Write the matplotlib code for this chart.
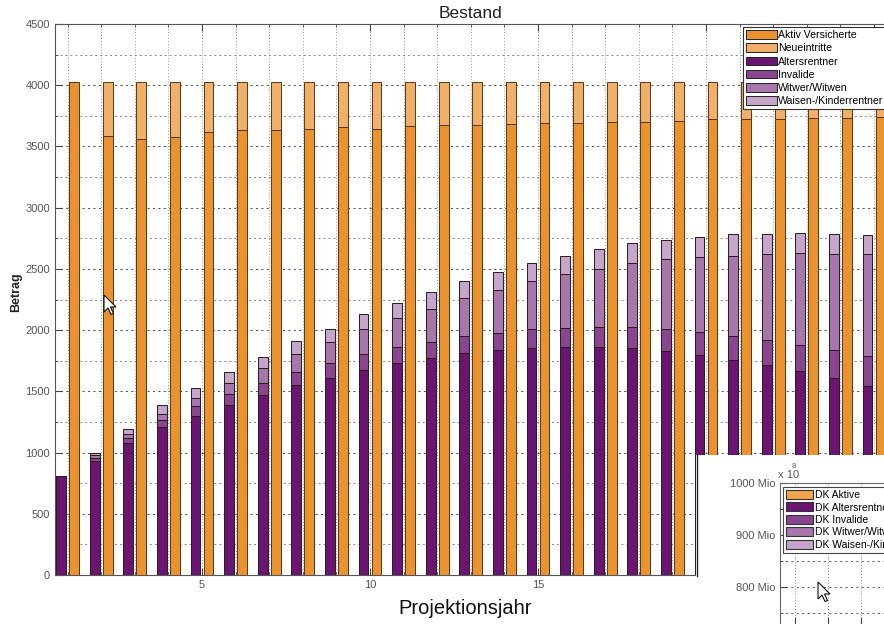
import numpy as np
import matplotlib
matplotlib.use("Agg")
import matplotlib.pyplot as plt
from matplotlib.patches import Patch, Polygon, Rectangle
from matplotlib.lines import Line2D
from matplotlib.ticker import MultipleLocator, FixedLocator

plt.rcParams['font.family'] = ['Liberation Sans', 'DejaVu Sans']

# projection years
years = np.arange(1, 26)

# orange stack: active insured + new entries
aktiv = [4030, 3585, 3558, 3577, 3615, 3632, 3632, 3640, 3656, 3645, 3664, 3672, 3672,
         3683, 3689, 3694, 3697, 3702, 3710, 3721, 3721, 3724, 3735, 3735, 3737]
neueintritte = [0, 445, 472, 453, 415, 398, 398, 390, 374, 385, 366, 358, 358,
                347, 341, 336, 333, 328, 320, 309, 309, 306, 295, 295, 293]

# purple stack: pensioners
altersrentner = [806, 931, 1075, 1209, 1296, 1388, 1470, 1549, 1609, 1674, 1729, 1770, 1811,
                 1838, 1851, 1860, 1865, 1851, 1832, 1797, 1756, 1715, 1666, 1606, 1546]
invalide = [2, 24, 41, 54, 82, 88, 101, 106, 120, 128, 131, 135, 138,
            141, 155, 160, 158, 172, 180, 185, 199, 204, 212, 232, 243]
witwer = [2, 25, 33, 49, 69, 95, 117, 147, 171, 204, 237, 270, 313,
          349, 395, 438, 474, 523, 566, 613, 650, 700, 749, 781, 830]
waisen = [0, 19, 41, 74, 78, 84, 95, 106, 112, 126, 122, 134, 137,
          144, 145, 147, 163, 163, 158, 168, 177, 166, 166, 166, 158]

labels_main = ['Aktiv Versicherte', 'Neueintritte', 'Altersrentner', 'Invalide',
               'Witwer/Witwen', 'Waisen-/Kinderrentner']
colors_orange = ['#E8932F', '#F0B06A']
colors_purple = ['#6A1572', '#8A4591', '#A676AC', '#C5A5CA']

# second (covering) window
inset_labels = ['DK Aktive', 'DK Altersrentner', 'DK Invalide', 'DK Witwer/Witwen',
                'DK Waisen-/Kinderrentner']
inset_colors = ['#F2A54C', '#6A1572', '#8A4591', '#A676AC', '#C5A5CA']
inset_ticks = [800, 900, 1000]
inset_ticklabels = ['800 Mio', '900 Mio', '1000 Mio']

W, H = 884, 624
fig = plt.figure(figsize=(W / 100, H / 100), dpi=100)


def fx(px):
    return px / W


def fy(py):
    return 1 - py / H


# main axes, runs past the right edge of the picture
x0 = 0.625
ppu = 33.6
ax = fig.add_axes([fx(55), fy(575), fx(26.5 - x0) * ppu, fy(24) - fy(575)])
ax.set_xlim(x0, 26.5)
ax.set_ylim(0, 4500)

bw = 0.29
off = 0.195
edge = '#2b1a1a'
bottom = np.zeros(len(years))
for vals, c in zip([altersrentner, invalide, witwer, waisen], colors_purple):
    ax.bar(years - off, vals, bw, bottom=bottom, color=c, edgecolor=edge, linewidth=0.7, zorder=3)
    bottom += np.array(vals)
bottom = np.zeros(len(years))
for vals, c in zip([aktiv, neueintritte], colors_orange):
    ax.bar(years + off, vals, bw, bottom=bottom, color=c, edgecolor='#5a3418', linewidth=0.7, zorder=3)
    bottom += np.array(vals)

ax.xaxis.set_major_locator(MultipleLocator(5))
ax.xaxis.set_minor_locator(MultipleLocator(1))
ax.yaxis.set_major_locator(MultipleLocator(500))
ax.yaxis.set_minor_locator(MultipleLocator(250))
ax.grid(which='major', axis='y', linestyle=(0, (2.5, 4)), color='#333333', linewidth=0.6, zorder=0)
ax.grid(which='minor', axis='y', linestyle=(0, (2.5, 4)), color='#666666', linewidth=0.55, zorder=0)
ax.grid(which='both', axis='x', linestyle=(0, (1, 2.5)), color='#777777', linewidth=0.6, zorder=0)
ax.tick_params(which='both', direction='in', top=True, right=True, labelsize=8,
               labelcolor='#555555', color='#444444')
ax.tick_params(which='major', length=5)
ax.tick_params(which='minor', length=2.5)
for s in ax.spines.values():
    s.set_color('#555555')
    s.set_linewidth(0.8)

fig.text(fx(470), fy(14), 'Bestand', ha='center', va='center', fontsize=12.5, color='#222222')
fig.text(fx(16), fy(292), 'Betrag', ha='center', va='center', rotation=90,
         fontsize=9, fontweight='bold', color='#222222')
fig.text(fx(465), fy(608), 'Projektionsjahr', ha='center', va='center', fontsize=14.5, color='#111111')

handles = [Patch(facecolor=c, edgecolor='#222222', linewidth=0.7)
           for c in colors_orange + colors_purple]
leg = fig.legend(handles, labels_main, loc='upper left', bbox_to_anchor=(fx(743), fy(27)),
                 fontsize=7.6, handlelength=2.9, handleheight=0.9, labelspacing=0.3,
                 handletextpad=0.15, borderpad=0.3, borderaxespad=0, fancybox=False,
                 framealpha=1, edgecolor='#333333')
leg.get_frame().set_linewidth(0.8)
leg.set_zorder(4)

# white panel of the covering window
panel = fig.add_axes([fx(696), 0, fx(W - 696), fy(455)])
panel.set_facecolor('white')
panel.set_axis_off()
panel.add_patch(Rectangle((0, 0), 1, 1, transform=panel.transAxes, color='white', zorder=0))
panel.set_zorder(5)
fig.add_artist(Line2D([fx(696.5), fx(696.5)], [fy(455), fy(576)], color='#222222',
                      linewidth=1.0, zorder=6))

ins = fig.add_axes([fx(780), 0, fx(W - 780), fy(483)])
ins.set_zorder(6)
ins.set_xlim(0.545, 0.545 + (W - 780) / 33.0)
ins.set_ylim(1000 - (624 - 483) / 0.52, 1000)
ins.yaxis.set_major_locator(FixedLocator(inset_ticks))
ins.set_yticklabels(inset_ticklabels)
ins.yaxis.set_minor_locator(MultipleLocator(50))
ins.xaxis.set_major_locator(MultipleLocator(1))
ins.set_xticklabels([])
ins.grid(which='both', axis='y', linestyle=(0, (2.5, 4)), color='#444444', linewidth=0.6)
ins.grid(which='major', axis='x', linestyle=(0, (1, 2.5)), color='#666666', linewidth=0.6)
ins.tick_params(which='both', direction='in', labelsize=8, labelcolor='#555555', color='#444444')
ins.tick_params(which='major', length=5)
ins.tick_params(which='minor', length=2.5)
ins.spines['right'].set_visible(False)
ins.spines['bottom'].set_visible(False)
for s in ['left', 'top']:
    ins.spines[s].set_color('#666666')
fig.text(fx(778), fy(480), 'x 10', fontsize=8, color='#555555', ha='left', va='bottom', zorder=7)
fig.text(fx(792), fy(470), '8', fontsize=5.5, color='#555555', ha='left', va='bottom', zorder=7)

ihandles = [Patch(facecolor=c, edgecolor='#333333', linewidth=0.8) for c in inset_colors]
ileg = ins.legend(ihandles, inset_labels, loc='upper left', bbox_to_anchor=(fx(783), fy(487)),
                  bbox_transform=fig.transFigure, fontsize=7.5, handlelength=2.6,
                  handleheight=0.95, labelspacing=0.22, handletextpad=0.2, borderpad=0.3,
                  borderaxespad=0, fancybox=False, framealpha=1, edgecolor='#444444')
ileg.get_frame().set_linewidth(0.8)

# mouse pointers
arrow = np.array([(0, 0), (0, 17), (4, 13), (7, 19.5), (9.5, 18.5), (6.5, 12), (12, 12)])
for tx, ty in [(104, 295), (818, 582)]:
    pts = [(fx(tx + px), fy(ty + py)) for px, py in arrow]
    fig.add_artist(Polygon(pts, closed=True, facecolor='white', edgecolor='#111111',
                           linewidth=0.8, transform=fig.transFigure, zorder=10))

fig.savefig('out.png', dpi=100)
